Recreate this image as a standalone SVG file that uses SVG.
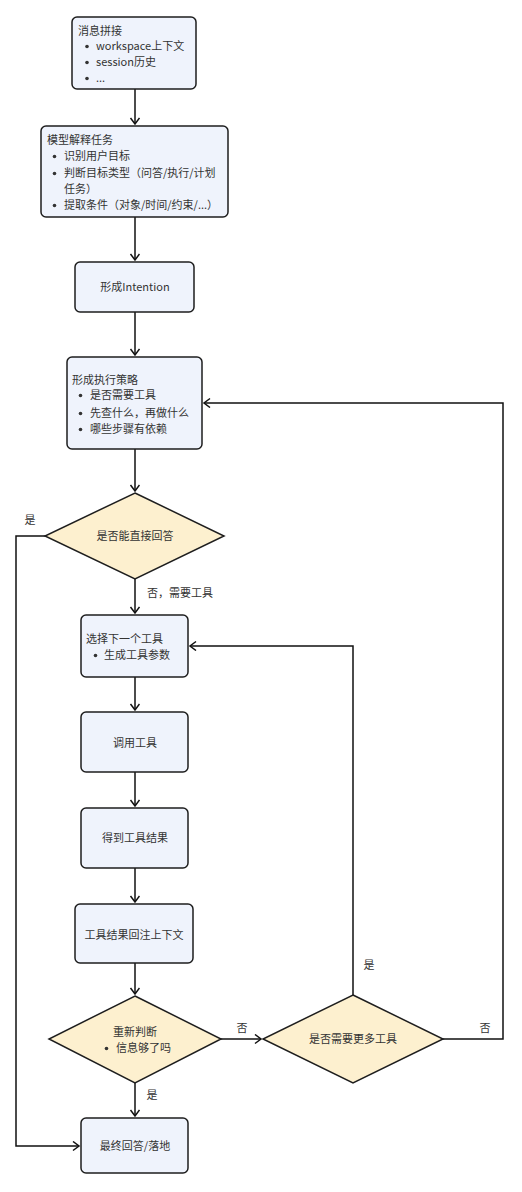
<svg xmlns="http://www.w3.org/2000/svg" width="522" height="1192" viewBox="0 0 522 1192">
<style>
.box{fill:#eff3fc;stroke:#1e1e1e;stroke-width:1.5}
.dia{fill:#fdf0cf;stroke:#1e1e1e;stroke-width:1.5}
text{font-family:"Noto Sans CJK SC","Noto Sans",sans-serif;font-size:11px;fill:#333}
.c{text-anchor:middle}
.edge{fill:none;stroke:#111;stroke-width:1.5}
.b{fill:#333}
</style>
<defs>
<marker id="arr" markerUnits="userSpaceOnUse" markerWidth="12" markerHeight="12" refX="7" refY="5" orient="auto">
<path d="M1,0.5 L7,5 L1,9.5" fill="none" stroke="#111" stroke-width="1.5"/>
</marker>
</defs>
<rect width="522" height="1192" fill="#fff"/>
<g id="connectors">
<path class="edge" d="M135,89 V124" marker-end="url(#arr)"/>
<path class="edge" d="M135,217 V260" marker-end="url(#arr)"/>
<path class="edge" d="M135,312 V355" marker-end="url(#arr)"/>
<path class="edge" d="M135,449 V491" marker-end="url(#arr)"/>
<path class="edge" d="M135,579 V613" marker-end="url(#arr)"/>
<path class="edge" d="M135,677 V710" marker-end="url(#arr)"/>
<path class="edge" d="M135,772 V806" marker-end="url(#arr)"/>
<path class="edge" d="M135,868 V902" marker-end="url(#arr)"/>
<path class="edge" d="M135,963 V994" marker-end="url(#arr)"/>
<path class="edge" d="M135,1083 V1116" marker-end="url(#arr)"/>
<path class="edge" d="M45,536 H16 V1146 H79" marker-end="url(#arr)"/>
<path class="edge" d="M221,1039 H261" marker-end="url(#arr)"/>
<path class="edge" d="M353,995 V646 H190" marker-end="url(#arr)"/>
<path class="edge" d="M443,1039 H503 V403 H204" marker-end="url(#arr)"/>
<text x="30" y="524" class="c">是</text>
<text x="147" y="597">否，需要工具</text>
<text x="242" y="1032" class="c">否</text>
<text x="369" y="969" class="c">是</text>
<text x="485" y="1032" class="c">否</text>
<text x="152" y="1099" class="c">是</text>
</g>
<g id="n1">
<rect class="box" x="72" y="17" width="124" height="72" rx="5"/>
<text x="78" y="35">消息拼接</text>
<circle class="b" cx="87" cy="46.5" r="1.8"/><text x="96" y="50">workspace上下文</text>
<circle class="b" cx="87" cy="62.5" r="1.8"/><text x="96" y="66">session历史</text>
<circle class="b" cx="87" cy="78.5" r="1.8"/><text x="96" y="82">...</text>
</g>
<g id="n2">
<rect class="box" x="41" y="126" width="187" height="91" rx="5"/>
<text x="47" y="144">模型解释任务</text>
<circle class="b" cx="54.5" cy="156.5" r="1.8"/><text x="64" y="160">识别用户目标</text>
<circle class="b" cx="54.5" cy="173.5" r="1.8"/><text x="64" y="177">判断目标类型（问答/执行/计划</text>
<text x="64" y="193">任务）</text>
<circle class="b" cx="54.5" cy="205.5" r="1.8"/><text x="64" y="209">提取条件（对象/时间/约束/...）</text>
</g>
<g id="n3">
<rect class="box" x="75" y="262" width="119" height="50" rx="5"/>
<text x="135" y="291" class="c">形成Intention</text>
</g>
<g id="n4">
<rect class="box" x="67" y="357" width="135" height="92" rx="5"/>
<text x="72" y="384">形成执行策略</text>
<circle class="b" cx="80.5" cy="395.5" r="1.8"/><text x="90" y="399">是否需要工具</text>
<circle class="b" cx="80.5" cy="413.5" r="1.8"/><text x="90" y="417">先查什么，再做什么</text>
<circle class="b" cx="80.5" cy="429.5" r="1.8"/><text x="90" y="433">哪些步骤有依赖</text>
</g>
<g id="d1">
<polygon class="dia" points="135,493 224,536 135,579 45,536"/>
<text x="135" y="540" class="c">是否能直接回答</text>
</g>
<g id="n5">
<rect class="box" x="81" y="615" width="107" height="62" rx="5"/>
<text x="86" y="643">选择下一个工具</text>
<circle class="b" cx="95.5" cy="655.5" r="1.8"/><text x="104" y="659">生成工具参数</text>
</g>
<g id="n6">
<rect class="box" x="81" y="712" width="107" height="60" rx="5"/>
<text x="135" y="747" class="c">调用工具</text>
</g>
<g id="n7">
<rect class="box" x="81" y="808" width="107" height="60" rx="5"/>
<text x="135" y="842" class="c">得到工具结果</text>
</g>
<g id="n8">
<rect class="box" x="75" y="904" width="118" height="59" rx="5"/>
<text x="134" y="939" class="c">工具结果回注上下文</text>
</g>
<g id="d2">
<polygon class="dia" points="135,996 221,1039 135,1083 49,1039"/>
<text x="135" y="1036" class="c">重新判断</text>
<circle class="b" cx="106.5" cy="1048.5" r="1.8"/><text x="116" y="1052">信息够了吗</text>
</g>
<g id="d3">
<polygon class="dia" points="353,995 443,1039 353,1083 263,1039"/>
<text x="353" y="1043" class="c">是否需要更多工具</text>
</g>
<g id="n9">
<rect class="box" x="81" y="1118" width="107" height="55" rx="5"/>
<text x="135" y="1150" class="c">最终回答/落地</text>
</g>
</svg>
